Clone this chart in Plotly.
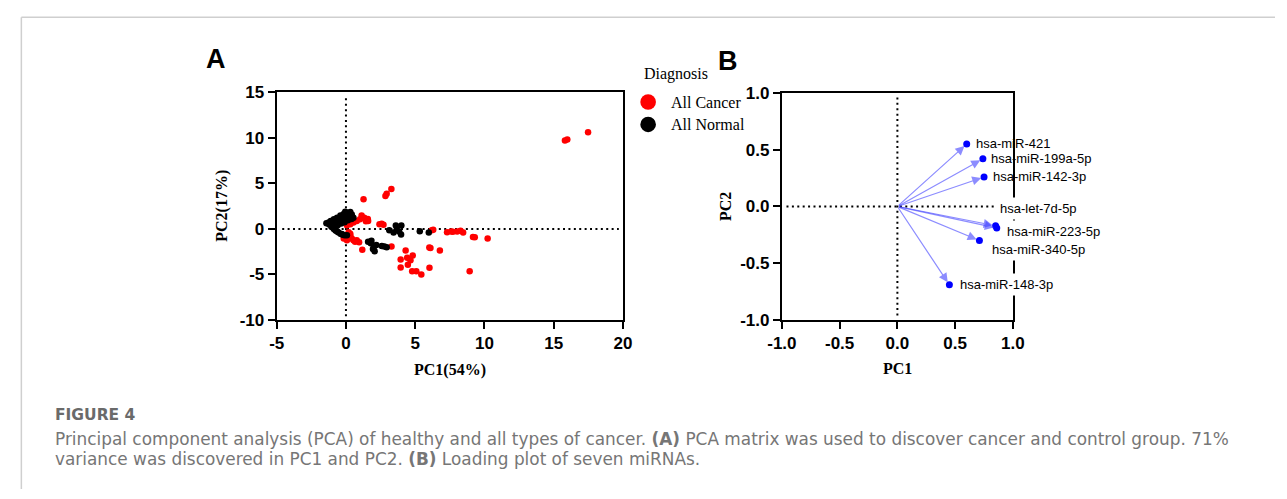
import plotly.graph_objects as go

W, H = 1287, 499

# ---------------- Panel A: PCA scores ----------------
cancer_pc1 = [15.81, 15.98, 17.48,
              3.28, 2.94, 2.85, 1.27,
              1.13, 1.32, 1.01, 1.60, 1.44, 1.58, 0.78, 0.54, 0.31, 0.07,
              2.42, 2.58, 2.71,
              -0.16, 0.07, 0.31, 0.42, 0.54, 0.66, 0.78, 0.31, 0.19, 0.95,
              1.18, 3.29, 4.31, 3.95, 3.95, 4.42, 4.66, 4.82, 4.47, 4.78, 5.08, 5.44,
              6.02, 6.10, 6.03, 6.78,
              6.20, 6.30, 7.30, 7.60, 7.72, 8.03, 8.27, 8.46, 9.17, 9.30, 10.23, 8.93]
cancer_pc2 = [9.72, 9.82, 10.63,
              4.40, 3.87, 3.63, 3.27,
              1.48, 1.23, 1.06, 0.88, 0.85, 1.09, 0.88, 0.70, 0.53, 0.42,
              0.53, 0.56, 0.46,
              -1.06, -1.23, -0.70, -1.06, -1.23, -1.41, -1.23, -0.53, -0.35, -1.45,
              -2.29, -1.94, -2.36, -3.35, -4.23, -3.17, -3.45, -2.92, -3.94, -4.65, -4.65, -5.00,
              -2.04, -2.08, -4.26, -2.36,
              -0.14, -0.10, -0.35, -0.28, -0.30, -0.28, -0.21, -0.39, -0.88, -0.90, -1.06, -4.65]

normal_pc1 = [-1.41, -1.25, -1.10, -0.87, -0.64, -0.40, -0.16, 0.07, 0.31, 0.42, 0.54, 0.19,
              -0.05, -0.28, -0.52, -0.75, -0.99, 0.30, 0.05, -0.20, -0.45, 0.40, 0.15, -0.10,
              -0.35, -0.60, -1.20, -0.05, 0.20, -0.30,
              -0.87, -0.75, -0.56, -0.40, -0.24, -0.09, 0.07, -0.95, -0.65, -0.30, -1.05,
              1.60, 1.84, 1.79, 2.02, 2.07, 2.19, 2.59, 2.78, 2.94, 1.95,
              3.13, 3.44, 3.60, 3.67, 3.84, 4.00, 3.98, 5.33, 5.98]
normal_pc2 = [0.63, 0.72, 0.88, 1.06, 1.23, 1.48, 1.65, 1.76, 1.87, 1.58, 1.23, 1.23,
              1.06, 0.88, 0.70, 0.53, 0.35, 1.40, 1.45, 1.25, 1.00, 1.10, 0.95, 0.75,
              0.60, 0.40, 0.50, 1.90, 1.70, 1.10,
              0.00, -0.18, -0.35, -0.53, -0.63, -0.70, -0.70, 0.15, -0.25, -0.55, 0.25,
              -1.41, -1.30, -1.58, -1.94, -2.46, -1.76, -1.87, -1.94, -2.00, -2.20,
              -0.14, -0.39, 0.39, -0.10, -0.28, 0.39, -0.60, -0.25, -0.39]

groups = ["All Cancer", "All Normal"]
group_colors = ["#ff0000", "#000000"]

# ---------------- Panel B: loadings ----------------
mirnas = ["hsa-miR-421", "hsa-miR-199a-5p", "hsa-miR-142-3p", "hsa-let-7d-5p",
          "hsa-miR-223-5p", "hsa-miR-340-5p", "hsa-miR-148-3p"]
load_pc1 = [0.60, 0.74, 0.75, 0.85, 0.86, 0.71, 0.45]
load_pc2 = [0.55, 0.42, 0.26, -0.17, -0.19, -0.30, -0.69]
# label offsets from each point in pixels (dx right, dy up)
label_dx = [8, 7.5, 7.5, 3, 9, 12, 9.5]
label_dy = [1, 0, 0, 17, -3, -9, 0]
label_bg = [False, False, False, True, True, True, True]

ticks_a_x = [-5, 0, 5, 10, 15, 20]
ticks_a_y = [-10, -5, 0, 5, 10, 15]
ticks_b = [-1.0, -0.5, 0.0, 0.5, 1.0]


def fmt(v, nd=0):
    # plain hyphen-minus tick labels
    return f"{v:.{nd}f}"


def xp(px):
    """pixel x -> paper fraction"""
    return px / W


def yp(py):
    """pixel y (from top) -> paper fraction"""
    return 1 - py / H


fig = go.Figure()

fig.add_trace(go.Scatter(x=cancer_pc1, y=cancer_pc2, mode="markers", name=groups[0],
                         marker=dict(color=group_colors[0], size=6.5, line=dict(width=0)),
                         xaxis="x", yaxis="y", showlegend=False))
fig.add_trace(go.Scatter(x=normal_pc1, y=normal_pc2, mode="markers", name=groups[1],
                         marker=dict(color=group_colors[1], size=6.5, line=dict(width=0)),
                         xaxis="x", yaxis="y", showlegend=False))
fig.add_trace(go.Scatter(x=load_pc1, y=load_pc2, mode="markers", text=mirnas,
                         marker=dict(color="#0000ff", size=7, line=dict(width=0)),
                         xaxis="x2", yaxis="y2", showlegend=False))

tick_font = dict(family="Arial, Liberation Sans, sans-serif", size=17, color="#000", weight="bold")
axis_common = dict(showline=True, linewidth=2, linecolor="#000", mirror=True,
                   ticks="outside", ticklen=7, tickwidth=2, tickcolor="#000",
                   showgrid=False, zeroline=False, tickfont=tick_font, fixedrange=True)

fig.update_layout(
    width=W, height=H,
    margin=dict(l=0, r=0, t=0, b=0),
    paper_bgcolor="white", plot_bgcolor="white",
    showlegend=False,
    xaxis=dict(domain=[xp(267.3), xp(621)], range=[-5, 20], tickvals=ticks_a_x,
               ticktext=[fmt(v) for v in ticks_a_x], anchor="y", **axis_common),
    yaxis=dict(domain=[yp(323.3), yp(86.7)], range=[-10, 15], tickvals=ticks_a_y,
               ticktext=[fmt(v) for v in ticks_a_y], anchor="x", **axis_common),
    xaxis2=dict(domain=[xp(783.3), xp(1019.3)], range=[-1, 1], tickvals=ticks_b,
                ticktext=[fmt(v, 1) for v in ticks_b], anchor="y2", **axis_common),
    yaxis2=dict(domain=[yp(323.3), yp(87.3)], range=[-1, 1], tickvals=ticks_b,
                ticktext=[fmt(v, 1) for v in ticks_b], anchor="x2", **axis_common),
)

dot = dict(color="#000", width=2, dash="2px,3.4px")
frame = dict(color="#cfcfcf", width=1.5)
shapes = [
    # dotted reference lines through the origin
    dict(type="line", xref="x", yref="y", x0=0, x1=0, y0=-9.6, y1=14.4, line=dot, layer="below"),
    dict(type="line", xref="x", yref="y", x0=-4.6, x1=19.7, y0=0, y1=0, line=dot, layer="below"),
    dict(type="line", xref="x2", yref="y2", x0=0, x1=0, y0=-0.96, y1=0.96, line=dot, layer="below"),
    dict(type="line", xref="x2", yref="y2", x0=-0.96, x1=0.98, y0=0, y1=0, line=dot, layer="below"),
    # page frame
    dict(type="line", xref="paper", yref="paper", x0=xp(6.5), x1=xp(6.5), y0=0, y1=yp(8.5),
         line=frame),
    dict(type="line", xref="paper", yref="paper", x0=xp(6.5), x1=1, y0=yp(8.5), y1=yp(8.5),
         line=frame),
]

# legend dots
r = 8
for cy, col in zip([96.7, 120.0], group_colors):
    shapes.append(dict(type="circle", xref="paper", yref="paper",
                       x0=xp(646.7 - r), x1=xp(646.7 + r), y0=yp(cy + r), y1=yp(cy - r),
                       fillcolor=col, line=dict(width=0)))
fig.update_layout(shapes=shapes)

serif = "Liberation Serif, Times New Roman, serif"
ann = []


def paper_text(text, px, py, font, xanchor="center", angle=0):
    return dict(text=text, x=xp(px), y=yp(py), xref="paper", yref="paper",
                xanchor=xanchor, yanchor="middle", showarrow=False, textangle=angle,
                font=font)


# panel letters
letter_font = dict(family="Arial, Liberation Sans", size=27, color="#000")
ann.append(paper_text("<b>A</b>", 205, 52, letter_font))
ann.append(paper_text("<b>B</b>", 728, 54, letter_font))

# axis titles
title_font = dict(family=serif, size=16, color="#000", weight="bold")
ann.append(paper_text("PC1(54%)", 444, 375, title_font))
ann.append(paper_text("PC2(17%)", 212, 205, title_font, angle=-90))
ann.append(paper_text("PC1", 901.3, 374, title_font))
ann.append(paper_text("PC2", 725, 205, title_font, angle=-90))

# legend text
leg_font = dict(family=serif, size=16, color="#000")
ann.append(paper_text("Diagnosis", 640, 68, leg_font, xanchor="left"))
for cy, g in zip([96.7, 120.0], groups):
    ann.append(paper_text(g, 668, cy, leg_font, xanchor="left"))

# loading vectors
for x, y in zip(load_pc1, load_pc2):
    ann.append(dict(x=x, y=y, ax=0, ay=0, xref="x2", yref="y2", axref="x2", ayref="y2",
                    text="", showarrow=True, arrowhead=2, arrowsize=1.5, arrowwidth=1.2,
                    arrowcolor="rgba(70,70,255,0.62)", standoff=3))

# loading labels
for name, x, y, dx, dy, bg in zip(mirnas, load_pc1, load_pc2, label_dx, label_dy, label_bg):
    ann.append(dict(text=name, x=x, y=y, xref="x2", yref="y2", xanchor="left", yanchor="middle",
                    xshift=dx - 3, yshift=dy, showarrow=False,
                    bgcolor="white" if bg else "rgba(0,0,0,0)", borderpad=3,
                    font=dict(family="Arial, Liberation Sans, sans-serif", size=13, color="#000")))

# caption
cap_font = dict(family="DejaVu Sans, sans-serif", size=16.9, color="#767676")
ann.append(paper_text("<b>FIGURE 4</b>", 39, 422,
                      dict(family="DejaVu Sans, sans-serif", size=15.5, color="#6a6a6a"),
                      xanchor="left"))
ann.append(paper_text("Principal component analysis (PCA) of healthy and all types of cancer. "
                      "<b>(A)</b> PCA matrix was used to discover cancer and control group. 71%",
                      39, 447, cap_font, xanchor="left"))
ann.append(paper_text("variance was discovered in PC1 and PC2. <b>(B)</b> Loading plot of seven miRNAs.",
                      39, 468, cap_font, xanchor="left"))

fig.update_layout(annotations=ann)

fig.write_html("out.html")
